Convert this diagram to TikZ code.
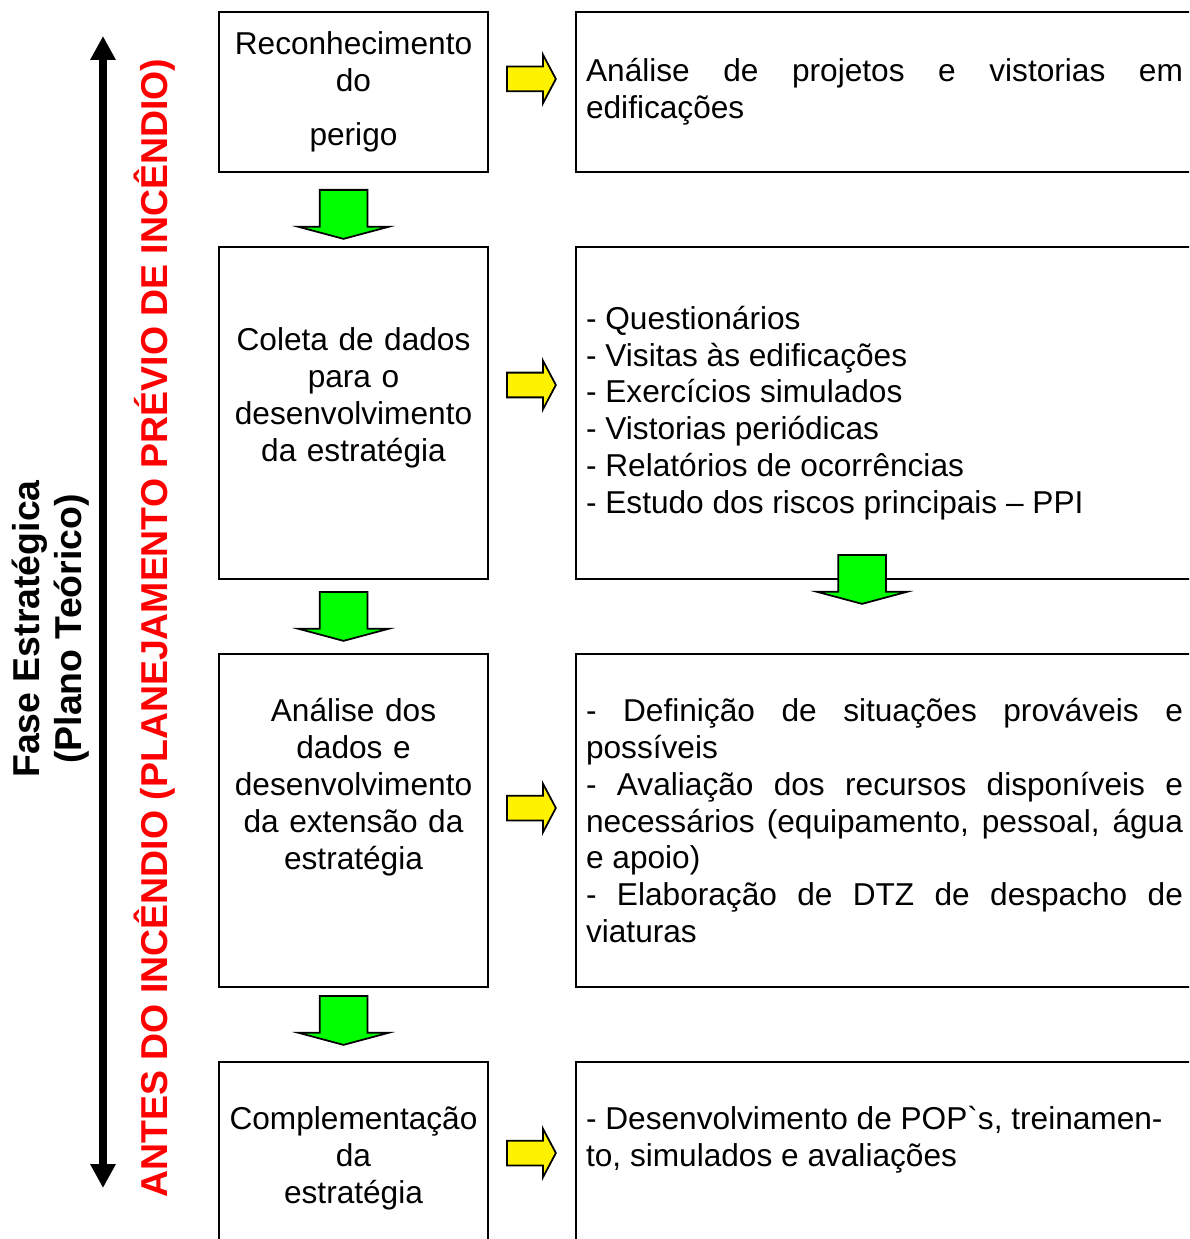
\documentclass[tikz,border=0pt]{standalone}
\usepackage{fontspec}
\setmainfont{Liberation Sans}
\usepackage{xcolor}
\usetikzlibrary{arrows.meta, positioning, shapes.arrows}

\begin{document}
\begin{tikzpicture}[
        x=0.02cm, y=-0.02cm,
        node distance = 1.46cm,
        stepbox/.style = {
            rectangle,
            draw=black,
            line width=1.2pt,
            align=center,
            text width=5.2cm,
            inner xsep=0.09cm,
            font=\fontsize{18}{21}\selectfont
        },
        infobox/.style = {
            rectangle,
            draw=black,
            line width=1.2pt,
            align=justify,
            text width=11.94cm,
            inner xsep=0.2cm,
            font=\fontsize{18}{21}\selectfont
        },
        downarrow/.style = {
            single arrow,
            draw=black,
            line width=1pt,
            fill=green,
            rotate=-90,
            anchor=tail,
            inner xsep=0pt,
            inner ysep=0.46cm,
            minimum height=0.98cm,
            single arrow head extend=0.42cm,
            single arrow tip angle=150
        },
        sidearrow/.style = {
            single arrow,
            draw=black,
            line width=1pt,
            fill=yellow,
            anchor=tail,
            inner xsep=0pt,
            inner ysep=0.23cm,
            minimum height=0.98cm,
            single arrow head extend=0.24cm,
            single arrow tip angle=124
        },
        timeline/.style = {
            {Triangle[length=0.48cm, width=0.48cm]}-{Triangle[length=0.48cm, width=0.48cm]},
            line width=0.16cm
        },
        phase/.style = {
            rotate=90,
            align=center,
            font=\fontsize{21.3}{24}\selectfont\bfseries
        }
    ]

    \clip (0,0) rectangle (1189,1239);

    % Steps
    \node[stepbox, minimum height=3.2cm] (recon) at (353.5,92) {Reconhecimento\\do\\[10pt]perigo};
    \node[stepbox, minimum height=6.64cm, below=of recon] (coleta) {Coleta de dados\\para o\\desenvolvimento\\da estratégia\\\mbox{}};
    \node[stepbox, minimum height=6.66cm, below=of coleta] (analise) {Análise dos\\dados e\\desenvolvimento\\da extensão da\\estratégia\\\mbox{}\\\mbox{}};
    \node[stepbox, minimum height=4.44cm, below=of analise] (compl) {Complementação\\da\\estratégia\\\mbox{}};

    % Details
    \node[infobox, minimum height=3.2cm, right=1.72cm of recon] (recon info) {Análise de projetos e vistorias em\linebreak edificações};
    \node[infobox, minimum height=6.64cm, right=1.72cm of coleta] (coleta info) {- Questionários\\- Visitas às edificações\\- Exercícios simulados\\- Vistorias periódicas\\- Relatórios de ocorrências\\- Estudo dos riscos principais -- PPI};
    \node[infobox, minimum height=6.66cm, right=1.72cm of analise] (analise info) {- Definição de situações prováveis e\linebreak possíveis\\- Avaliação dos recursos disponíveis e\linebreak necessários (equipamento, pessoal, água\linebreak e apoio)\\- Elaboração de DTZ de despacho de\linebreak viaturas};
    \node[infobox, minimum height=4.44cm, right=1.72cm of compl] (compl info) {- Desenvolvimento de POP\textasciigrave s, treinamen-\\to, simulados e avaliações\\\mbox{}\\\mbox{}};

    % Block arrows
    \node[downarrow] (down1) at (343.5,189) {};
    \node[downarrow] (down2) at (343.5,591) {};
    \node[downarrow] (down3) at (343.5,995) {};
    \node[downarrow] (down4) at (862,554) {};
    \node[sidearrow] (side1) at (506,79) {};
    \node[sidearrow] (side2) at (506,385) {};
    \node[sidearrow] (side3) at (506,808) {};
    \node[sidearrow] (side4) at (506,1153) {};

    % Phase
    \coordinate (tl top) at (103,36);
    \coordinate (tl bottom) at (103,1188);
    \draw[timeline] (tl bottom) -- (tl top);
    \node[phase] (fase) at (51,629) {Fase Estratégica\\(Plano Teórico)};
    \node[phase, text=red] (antes) at (155,628) {ANTES DO INCÊNDIO (PLANEJAMENTO PRÉVIO DE INCÊNDIO)};

\end{tikzpicture}
\end{document}
